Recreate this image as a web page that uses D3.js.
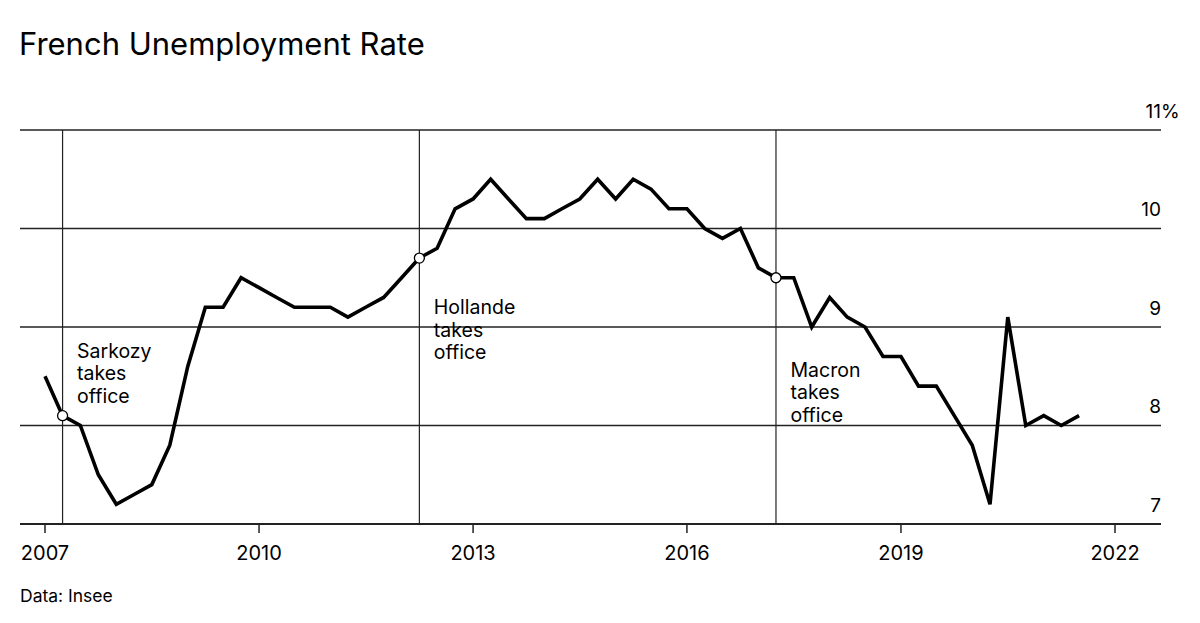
<!DOCTYPE html>
<html lang="en">
<head>
<meta charset="UTF-8" />
<title>French Unemployment Rate</title>
<script src="https://d3js.org/d3.v7.js"></script>
<style>
  body { margin: 0; background: #fff; }
  svg { display: block; font-family: Inter, "Liberation Sans", Arial, sans-serif; }
</style>
</head>
<body>
<div id="chart"></div>
<script>
  // quarterly unemployment rate (%), 2007 Q1 .. 2021 Q2
  const startYear = 2007;
  const rates = [
    8.5, 8.1, 8.0, 7.5,
    7.2, 7.3, 7.4, 7.8,
    8.6, 9.2, 9.2, 9.5,
    9.4, 9.3, 9.2, 9.2,
    9.2, 9.1, 9.2, 9.3,
    9.5, 9.7, 9.8, 10.2,
    10.3, 10.5, 10.3, 10.1,
    10.1, 10.2, 10.3, 10.5,
    10.3, 10.5, 10.4, 10.2,
    10.2, 10.0, 9.9, 10.0,
    9.6, 9.5, 9.5, 9.0,
    9.3, 9.1, 9.0, 8.7,
    8.7, 8.4, 8.4, 8.1,
    7.8, 7.2, 9.1, 8.0,
    8.1, 8.0, 8.1
  ];
  const xTicks = [2007, 2010, 2013, 2016, 2019, 2022];
  const yTicks = [7, 8, 9, 10, 11];

  // presidents taking office: name, quarter index in rates
  const eventNames = ["Sarkozy", "Hollande", "Macron"];
  const eventQuarters = [1, 21, 41];

  // label layout (pixels)
  const eventLabelDy = [-58, 56, 99];

  const width = 1200, height = 623;
  const margin = {left: 20, right: 1161, top: 130, bottom: 524};

  const data = rates.map((v, i) => ({
    date: new Date(startYear + Math.floor(i / 4), (i % 4) * 3, 1),
    value: v
  }));

  const x = d3.scaleTime()
    .domain([new Date(2007, 0, 1), new Date(2022, 0, 1)])
    .range([45, 1115]);

  const y = d3.scaleLinear()
    .domain([7, 11])
    .range([margin.bottom, margin.top]);

  const svg = d3.select("#chart")
    .append("svg")
    .attr("width", width)
    .attr("height", height);

  svg.append("text")
    .attr("x", 19)
    .attr("y", 55)
    .attr("font-size", 31)
    .attr("fill", "#000")
    .text("French Unemployment Rate");

  // horizontal gridlines
  svg.append("g")
    .selectAll("line")
    .data(yTicks)
    .join("line")
    .attr("x1", margin.left)
    .attr("x2", margin.right)
    .attr("y1", d => y(d))
    .attr("y2", d => y(d))
    .attr("stroke", "#222")
    .attr("stroke-width", d => d === 7 ? 2 : 1.5);

  // y labels, right side above each line
  const yLab = svg.append("g")
    .attr("font-size", 19)
    .attr("fill", "#000");
  yLab.selectAll("text")
    .data(yTicks)
    .join("text")
    .attr("x", margin.right)
    .attr("y", d => y(d) - 12.5)
    .attr("text-anchor", "end")
    .text(d => d);
  yLab.append("text")
    .attr("x", margin.right)
    .attr("y", y(11) - 12.5)
    .text("%");

  // x axis ticks and labels
  const xg = svg.append("g");
  xg.selectAll("line")
    .data(xTicks)
    .join("line")
    .attr("x1", d => x(new Date(d, 0, 1)))
    .attr("x2", d => x(new Date(d, 0, 1)))
    .attr("y1", margin.bottom)
    .attr("y2", margin.bottom + 9)
    .attr("stroke", "#222")
    .attr("stroke-width", 1.5);
  xg.selectAll("text")
    .data(xTicks)
    .join("text")
    .attr("x", d => x(new Date(d, 0, 1)))
    .attr("y", 560)
    .attr("text-anchor", "middle")
    .attr("font-size", 20)
    .text(d => d);

  // event vertical lines
  const events = eventNames.map((n, i) => data[eventQuarters[i]]);
  svg.append("g")
    .selectAll("line")
    .data(events)
    .join("line")
    .attr("x1", d => x(d.date))
    .attr("x2", d => x(d.date))
    .attr("y1", y(11))
    .attr("y2", margin.bottom)
    .attr("stroke", "#222")
    .attr("stroke-width", 1.2);

  // the series
  const line = d3.line()
    .x(d => x(d.date))
    .y(d => y(d.value));

  svg.append("path")
    .datum(data)
    .attr("d", line)
    .attr("fill", "none")
    .attr("stroke", "#000")
    .attr("stroke-width", 3.6)
    .attr("stroke-linejoin", "miter");

  // markers
  svg.append("g")
    .selectAll("circle")
    .data(events)
    .join("circle")
    .attr("cx", d => x(d.date))
    .attr("cy", d => y(d.value))
    .attr("r", 5)
    .attr("fill", "#fff")
    .attr("stroke", "#000")
    .attr("stroke-width", 1.3);

  // annotation labels
  events.forEach((d, i) => {
    const t = svg.append("text")
      .attr("x", x(d.date) + 14.5)
      .attr("y", y(d.value) + eventLabelDy[i])
      .attr("font-size", 19.5)
      .attr("fill", "#000");
    [eventNames[i], "takes", "office"].forEach((s, j) => {
      t.append("tspan")
        .attr("x", x(d.date) + 14.5)
        .attr("dy", j === 0 ? 0 : 22.5)
        .text(s);
    });
  });

  svg.append("text")
    .attr("x", 20)
    .attr("y", 602)
    .attr("font-size", 17.5)
    .attr("fill", "#000")
    .text("Data: Insee");
</script>
</body>
</html>
